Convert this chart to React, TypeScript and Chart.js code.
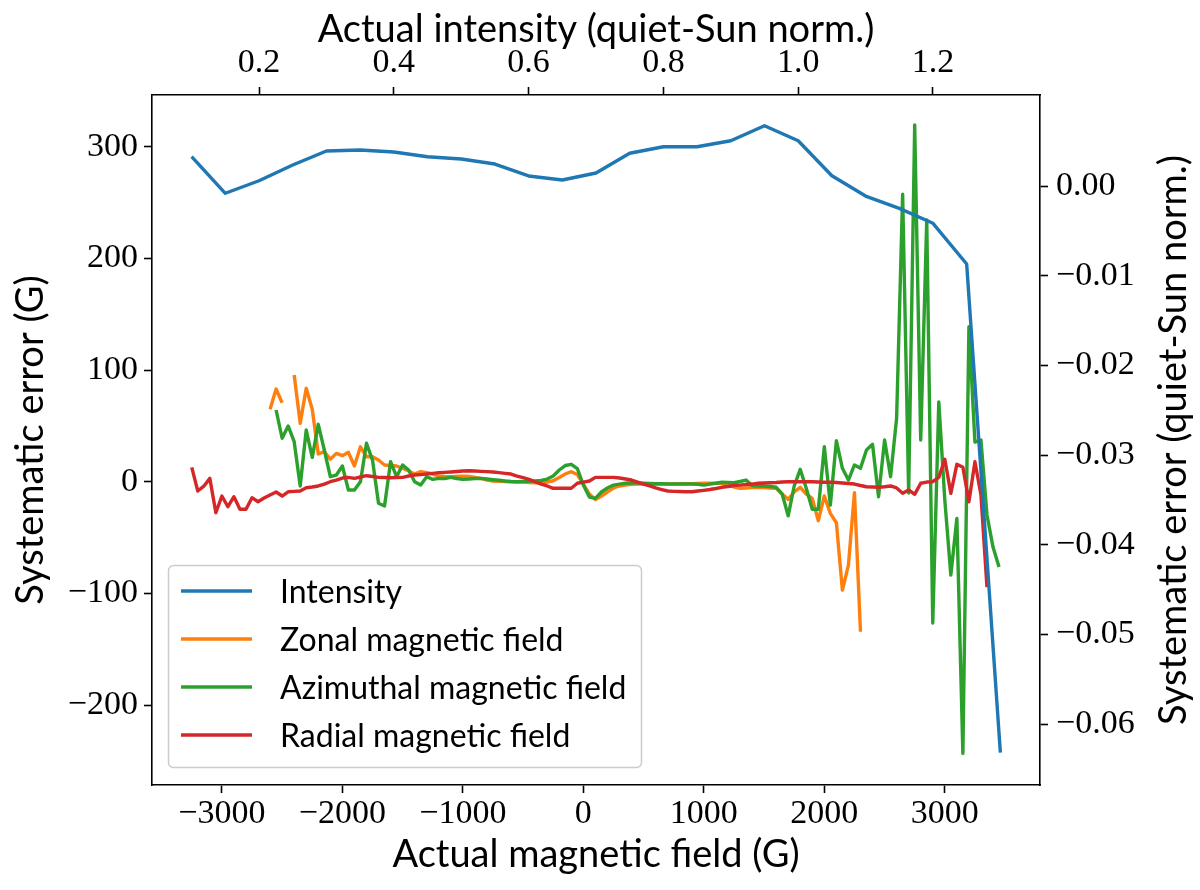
import { useEffect, useRef } from "react"
import { Chart, registerables } from "chart.js"

Chart.register(...registerables)

// bin centres of the actual magnetic field (G)
const FIELD = [
  -3250, -3200, -3150, -3100, -3050, -3000, -2950, -2900, -2850, -2800,
  -2750, -2700, -2650, -2600, -2550, -2500, -2450, -2400, -2350, -2300,
  -2250, -2200, -2150, -2100, -2050, -2000, -1950, -1900, -1850, -1800,
  -1750, -1700, -1650, -1600, -1550, -1500, -1450, -1400, -1350, -1300,
  -1250, -1200, -1150, -1100, -1050, -1000, -950, -900, -850, -800,
  -750, -700, -650, -600, -550, -500, -450, -400, -350, -300,
  -250, -200, -150, -100, -50, 0, 50, 100, 150, 200,
  250, 300, 350, 400, 450, 500, 550, 600, 650, 700,
  750, 800, 850, 900, 950, 1000, 1050, 1100, 1150, 1200,
  1250, 1300, 1350, 1400, 1450, 1500, 1550, 1600, 1650, 1700,
  1750, 1800, 1850, 1900, 1950, 2000, 2050, 2100, 2150, 2200,
  2250, 2300, 2350, 2400, 2450, 2500, 2550, 2600, 2650, 2700,
  2750, 2800, 2850, 2900, 2950, 3000, 3050, 3100, 3150, 3200,
  3250, 3300, 3350, 3400, 3450,
]

const ZONAL = [
  null, null, null, null, null, null, null, null, null, null,
  null, null, null, 64.8, 83.0, 70.7, null, 95.5, 52.3, 83.6,
  64.8, 24.8, 26.9, 20.1, 25.4, 23.3, 26.3, 14.1, 31.3, 22.4,
  22.4, 19.4, 15.0, 14.5, 14.1, 12.0, 9.6, 6.9, 9.0, 8.2,
  6.9, 5.1, 4.7, 4.5, 4.7, 4.9, 4.7, 3.8, 3.0, 1.5,
  0.6, 0.4, 0.2, 0.0, -0.3, -0.4, -0.7, -0.9, -0.9, -0.3,
  0.9, 3.8, 6.9, 9.0, 6.4, -2.1, -11.0, -15.9, -12.8, -9.2,
  -5.6, -3.8, -3.0, -2.3, -2.1, -2.1, -2.0, -2.0, -2.0, -1.9,
  -1.9, -1.8, -1.8, -1.7, -1.6, -1.4, -1.4, -1.4, -1.6, -3.0,
  -4.7, -5.9, -5.6, -5.2, -5.0, -5.2, -5.6, -5.9, -11.0, -15.8,
  -9.2, -5.0, -11.0, -14.9, -34.9, -12.8, -28.3, -36.7, -97.0, -74.6,
  -9.8, -134.3, null, null, null, null, null, null, null, null,
  null, null, null, null, null, null, null, null, null, null,
  null, null, null, null, null,
]

const AZIMUTHAL = [
  null, null, null, null, null, null, null, null, null, null,
  null, null, null, null, 64.2, 38.9, 49.9, 35.8, -3.8, 46.3,
  21.8, 51.4, 28.4, 4.5, 6.0, 14.1, -7.4, -7.4, 0.0, 34.4,
  19.4, -19.3, -21.8, 17.9, 4.5, 15.0, 10.5, 0.0, -3.0, 4.5,
  2.1, 3.0, 2.9, 3.9, 2.9, 2.1, 2.4, 2.9, 3.0, 2.4,
  1.8, 1.3, 0.6, 0.2, 0.0, 0.2, 0.4, 0.8, 1.1, 2.4,
  5.1, 10.5, 14.5, 15.6, 11.8, -3.0, -13.7, -14.9, -9.2, -5.6,
  -3.0, -2.1, -1.4, -0.9, -1.2, -1.4, -1.6, -1.8, -1.8, -2.0,
  -2.0, -2.1, -2.1, -2.0, -2.3, -3.0, -2.1, -1.4, -0.5, -0.7,
  -0.9, 0.2, 1.5, -3.4, -3.8, -3.8, -4.3, -5.0, -11.0, -30.5,
  -3.8, 11.1, -5.9, -24.7, -24.7, 31.3, -20.9, 36.7, 12.0, 1.5,
  15.0, 12.0, 28.4, 33.5, -13.4, 37.3, 4.5, 57.0, 257.3, -10.1,
  319.3, 37.3, 234.3, -126.5, 71.4, -16.4, -83.5, -32.8, -243.2, 138.8,
  35.5, 37.3, -29.8, -58.5, -76.4,
]

const RADIAL = [
  12.9, -8.3, -4.0, 3.0, -27.8, -12.8, -22.4, -13.4, -24.7, -24.7,
  -14.3, -17.9, -14.6, -11.9, -9.2, -12.8, -9.0, -8.6, -8.3, -5.4,
  -4.7, -3.8, -2.1, 0.0, 1.5, 3.3, 3.9, 3.0, 4.2, 5.4,
  4.7, 3.9, 3.8, 3.6, 3.8, 3.9, 5.1, 6.0, 6.4, 6.9,
  7.5, 8.1, 8.4, 8.7, 9.1, 9.6, 9.8, 9.6, 9.3, 9.0,
  8.7, 8.1, 7.5, 6.9, 5.1, 3.6, 2.1, 0.0, -2.1, -3.8,
  -5.9, -5.9, -5.9, -5.9, -1.4, -0.3, 0.6, 3.9, 3.9, 3.9,
  3.9, 3.3, 2.4, 1.5, -0.3, -2.1, -3.8, -5.6, -7.0, -8.3,
  -8.6, -8.8, -9.0, -9.0, -8.3, -7.7, -7.0, -6.1, -5.0, -4.3,
  -3.4, -3.0, -2.5, -2.1, -1.4, -1.2, -0.9, -0.7, -0.3, 0.0,
  0.0, 0.0, 0.0, 0.0, -0.3, -0.5, -0.5, -0.7, -1.2, -1.6,
  -2.1, -3.4, -4.5, -4.7, -5.0, -4.5, -3.8, -5.6, -10.4, -7.4,
  -11.3, -1.4, -0.3, 0.0, 3.9, 20.1, -10.4, 15.6, 12.9, -17.9,
  17.9, -11.9, -94.3, null, null,
]

// actual intensity (quiet-Sun norm.) and its systematic error
const INTENSITY = [
  0.10, 0.15, 0.20, 0.25, 0.30, 0.35, 0.40, 0.45, 0.50, 0.55,
  0.60, 0.65, 0.70, 0.75, 0.80, 0.85, 0.90, 0.95, 1.00, 1.05,
  1.10, 1.15, 1.20, 1.25, 1.30,
]
const INTENSITY_ERR = [
  0.00327, -0.00081, 0.00059, 0.00234, 0.0039, 0.00401, 0.00379, 0.00327, 0.00301, 0.00245,
  0.00112, 0.00067, 0.00145, 0.00365, 0.00438, 0.00438, 0.00505, 0.00672, 0.00505, 0.00115,
  -0.00112, -0.00249, -0.00416, -0.0087, -0.0632,
]

const FIELD_TICKS = [-3000, -2000, -1000, 0, 1000, 2000, 3000]
const INTENSITY_TICKS = [0.2, 0.4, 0.6, 0.8, 1.0, 1.2]
const ERROR_TICKS = [-200, -100, 0, 100, 200, 300]
const NORM_TICKS = [-0.06, -0.05, -0.04, -0.03, -0.02, -0.01, 0]

const tickFont = { family: "'Liberation Serif', serif", size: 34 }
const titleFont = { family: "Lato, sans-serif", size: 38 }

const fmt = (v: number, digits: number) =>
  (v < -1e-9 ? "\u2212" : "") + Math.abs(v).toFixed(digits)

const axisBase = (ticks: number[], digits: number, padding: number) => ({
  type: "linear" as const,
  afterBuildTicks: (scale: any) => {
    scale.ticks = ticks.map((value) => ({ value }))
  },
  ticks: {
    font: tickFont,
    color: "#000",
    padding,
    autoSkip: false,
    maxRotation: 0,
    callback: (v: any) => fmt(Number(v), digits),
  },
  grid: { drawOnChartArea: false, color: "#000", tickLength: 8, tickWidth: 1.6 },
  border: { color: "#000", width: 1.6 },
})

// legend box and the right-hand axis title (matplotlib reads it bottom to top)
const overlay = {
  id: "overlay",
  afterDraw(chart: any) {
    const ctx = chart.ctx as CanvasRenderingContext2D
    ctx.save()
    ctx.translate(1174, 440)
    ctx.rotate(-Math.PI / 2)
    ctx.font = "38px Lato, sans-serif"
    ctx.fillStyle = "#000"
    ctx.textAlign = "center"
    ctx.textBaseline = "middle"
    ctx.fillText("Systematic error (quiet-Sun norm.)", 0, 0)
    ctx.restore()

    ctx.save()
    ctx.beginPath()
    ctx.roundRect(168.5, 565.5, 473, 202, 5)
    ctx.fillStyle = "rgba(255,255,255,0.8)"
    ctx.fill()
    ctx.strokeStyle = "#cccccc"
    ctx.lineWidth = 1.5
    ctx.stroke()
    ctx.font = "32px Lato, sans-serif"
    ctx.textBaseline = "alphabetic"
    ctx.textAlign = "left"
    chart.data.datasets.forEach((ds: any, i: number) => {
      const y = 591 + i * 48
      ctx.beginPath()
      ctx.moveTo(181, y)
      ctx.lineTo(252, y)
      ctx.strokeStyle = ds.borderColor
      ctx.lineWidth = 3.4
      ctx.stroke()
      ctx.fillStyle = "#000"
      ctx.fillText(ds.label, 280, y + 11.5)
    })
    ctx.restore()
  },
}

export default function App() {
  const chartRef = useRef<HTMLCanvasElement>(null)
  const chartInstance = useRef<Chart | null>(null)

  useEffect(() => {
    if (!chartRef.current) return
    if (chartInstance.current) chartInstance.current.destroy()

    const line = (label: string, color: string, values: (number | null)[], order: number) => ({
      label,
      data: FIELD.map((x, i) => ({ x, y: values[i] })),
      xAxisID: "x",
      yAxisID: "y",
      borderColor: color,
      borderWidth: 3.4,
      pointRadius: 0,
      borderJoinStyle: "round" as const,
      tension: 0,
      order,
    })

    chartInstance.current = new Chart(chartRef.current, {
      type: "line",
      data: {
        datasets: [
          {
            label: "Intensity",
            data: INTENSITY.map((x, i) => ({ x, y: INTENSITY_ERR[i] })),
            xAxisID: "x2",
            yAxisID: "y2",
            borderColor: "#1f77b4",
            borderWidth: 3.4,
            pointRadius: 0,
            borderJoinStyle: "round",
            tension: 0,
            order: 0,
          },
          line("Zonal magnetic field", "#ff7f0e", ZONAL, 3),
          line("Azimuthal magnetic field", "#2ca02c", AZIMUTHAL, 2),
          line("Radial magnetic field", "#d62728", RADIAL, 1),
        ] as any,
      },
      options: {
        animation: false,
        responsive: true,
        maintainAspectRatio: false,
        layout: { padding: 0 },
        plugins: { legend: { display: false }, tooltip: { enabled: false } },
        scales: {
          x: {
            ...axisBase(FIELD_TICKS, 0, 1),
            position: "bottom",
            min: -3580,
            max: 3790,
            afterFit: (s: any) => {
              s.height = 105
            },
            title: {
              display: true,
              text: "Actual magnetic field (G)",
              font: titleFont,
              color: "#000",
              padding: { top: 0, bottom: 12 },
            },
          },
          x2: {
            ...axisBase(INTENSITY_TICKS, 1, 4),
            position: "top",
            min: 0.0412,
            max: 1.3588,
            afterFit: (s: any) => {
              s.height = 95
            },
            title: {
              display: true,
              text: "Actual intensity (quiet-Sun norm.)",
              font: titleFont,
              color: "#000",
              padding: { top: 7, bottom: 0 },
            },
          },
          y: {
            ...axisBase(ERROR_TICKS, 0, 6),
            position: "left",
            min: -271.5,
            max: 346.2,
            afterFit: (s: any) => {
              s.width = 152
            },
            title: {
              display: true,
              text: "Systematic error (G)",
              font: titleFont,
              color: "#000",
              padding: { top: 8, bottom: 0 },
            },
          },
          y2: {
            ...axisBase(NORM_TICKS, 2, 8),
            position: "right",
            min: -0.0668,
            max: 0.01015,
            afterFit: (s: any) => {
              s.width = 160
            },
          },
        } as any,
      },
      plugins: [overlay],
    })

    return () => {
      if (chartInstance.current) {
        chartInstance.current.destroy()
        chartInstance.current = null
      }
    }
  }, [])

  return (
    <div style={{ position: "absolute", left: 0, top: 0, width: 1200, height: 890, background: "#fff" }}>
      <canvas ref={chartRef} />
    </div>
  )
}
